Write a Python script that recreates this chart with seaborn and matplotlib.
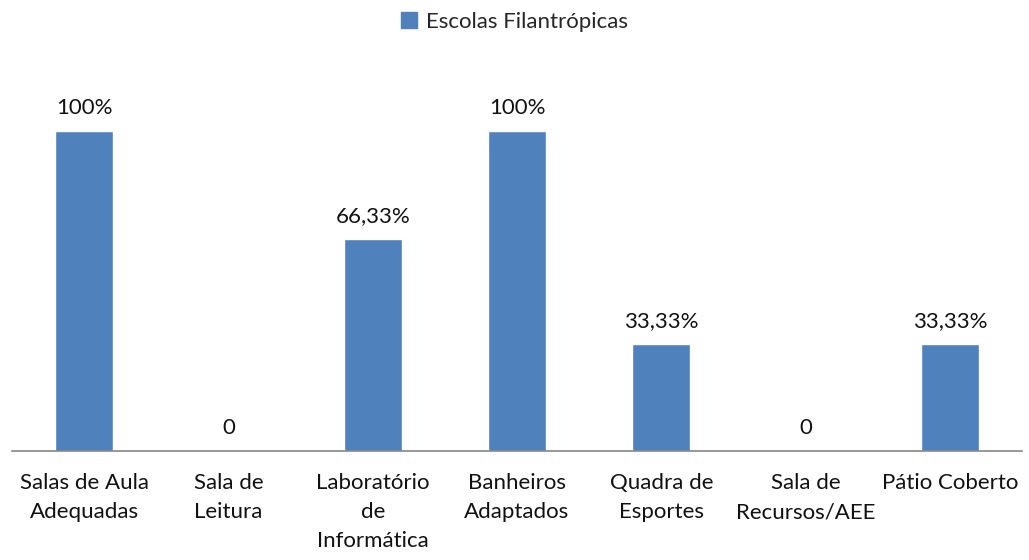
import pandas as pd
import seaborn as sns
import matplotlib.pyplot as plt

categorias = ["Salas de Aula\nAdequadas", "Sala de\nLeitura", "Laboratório\nde\nInformática",
              "Banheiros\nAdaptados", "Quadra de\nEsportes", "Sala de\nRecursos/AEE", "Pátio Coberto"]
valores = [100, 0, 66.33, 100, 33.33, 0, 33.33]
rotulos = ["100%", "0", "66,33%", "100%", "33,33%", "0", "33,33%"]
serie = "Escolas Filantrópicas"

sns.set_theme(style="white")
plt.rcParams['font.family'] = ['Lato', 'DejaVu Sans']

data = pd.DataFrame({"categoria": categorias, "valor": valores, "serie": serie})

fig = plt.figure(figsize=(10.29, 5.6), dpi=100)
ax = fig.add_axes([12 / 1029, 1 - 451 / 560, 1010 / 1029, (451 - 67) / 560])
sns.barplot(data=data, x="categoria", y="valor", hue="serie", palette=["#4F81BD"],
            width=0.4, saturation=1, ax=ax, legend=False)

ax.set_ylim(0, 120)
ax.set_xlim(-0.5, len(categorias) - 0.5)
ax.set_xlabel("")
ax.set_ylabel("")
ax.set_yticks([])
for s in ["top", "left", "right"]:
    ax.spines[s].set_visible(False)
ax.spines["bottom"].set_color("#868686")
ax.spines["bottom"].set_linewidth(1.2)
ax.tick_params(axis="x", length=0, pad=16, labelsize=16, labelcolor="#111111")
for lbl in ax.get_xticklabels():
    lbl.set_linespacing(1.55)
    lbl.set_verticalalignment("top")

for i, (v, t) in enumerate(zip(valores, rotulos)):
    ax.text(i, v + 4, t, ha="center", va="bottom", fontsize=16, color="#111111")

handle = plt.Rectangle((0, 0), 1, 1, color="#4F81BD")
fig.legend([handle], [serie], loc="upper center", bbox_to_anchor=(0.5, 1.015), frameon=False,
           fontsize=16, handlelength=0.7, handleheight=0.7, handletextpad=0.4)

fig.savefig("out.png", dpi=100, facecolor="white")
